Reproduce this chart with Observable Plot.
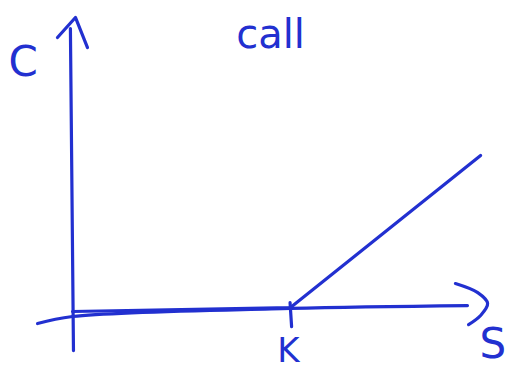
<!DOCTYPE html>
<html>
<head>
<meta charset="utf-8">
<script src="https://cdn.jsdelivr.net/npm/d3@7"></script>
<script src="https://cdn.jsdelivr.net/npm/@observablehq/plot@0.6"></script>
<style>
  html, body { margin: 0; padding: 0; background: #fff; }
  #chart svg { display: block; }
</style>
</head>
<body>
<div id="chart"></div>
<script>
// Call option payoff, sketched: value C against underlying price S, strike K = 100.
const strike = 100;

// Hand-drawn vertical axis (C) and its arrowhead
const yAxisS = [0.9, -0.5];
const yAxisC = [-21.8, 157.8];
const yArrowS = [-6.4, 1.8, 7.3];
const yArrowC = [152.8, 164.0, 147.2];

// Hand-drawn horizontal axis (S) and its curved arrowhead
const xAxisS = [-15.5, 0.5, 100, 180.8];
const xAxisC = [-6.7, -2.8, 1.7, 3.3];
const xArrowS = [175.3, 185.5, 190, 186.8, 181.3];
const xArrowC = [15.6, 10.5, 4.5, -2.2, -7.3];

// Payoff: flat up to the strike, then rising
const payoffS = [0.5, 100, 186.8];
const payoffC = [0, 2.2, 87.0];

// Tick mark at the strike
const tickS = [99.8, 100.5];
const tickC = [5.0, -8.4];

// Labels
const labelText = ["C", "call", "K", "S"];
const labelS = [-28.8, 90.9, 99, 186.3];
const labelC = [131.6, 146.7, -28.2, -26.2];
const labelSize = [42, 40, 34, 42];
const labelAnchor = ["start", "middle", "middle", "start"];

const ink = "#2230d0";
const pts = (xs, ys) => xs.map((s, i) => ({S: s, C: ys[i]}));
const labels = labelText.map((t, i) => ({text: t, S: labelS[i], C: labelC[i], size: labelSize[i], anchor: labelAnchor[i]}));

const pen = {x: "S", y: "C", stroke: ink, strokeWidth: 3.2, strokeLinecap: "round", strokeLinejoin: "round"};

const plot = Plot.plot({
  width: 508,
  height: 370,
  margin: 0,
  style: {background: "#fff", overflow: "hidden"},
  x: {domain: [-32.42, 199.54], axis: null},
  y: {domain: [-32.9, 173.45], axis: null},
  marks: [
    Plot.line(pts(yAxisS, yAxisC), pen),
    Plot.line(pts(yArrowS, yArrowC), pen),
    Plot.line(pts(xAxisS, xAxisC), {...pen, curve: "catmull-rom"}),
    Plot.line(pts(xArrowS, xArrowC), {...pen, curve: "catmull-rom"}),
    Plot.line(pts(payoffS, payoffC), pen),
    Plot.line(pts(tickS, tickC), pen),
    ...labels.map(d => Plot.text([d], {
      x: "S", y: "C", text: "text",
      fontSize: d.size,
      textAnchor: d.anchor,
      lineAnchor: "bottom",
      fill: ink,
      fontFamily: "DejaVu Sans"
    }))
  ]
});
document.getElementById("chart").append(plot);
</script>
</body>
</html>
